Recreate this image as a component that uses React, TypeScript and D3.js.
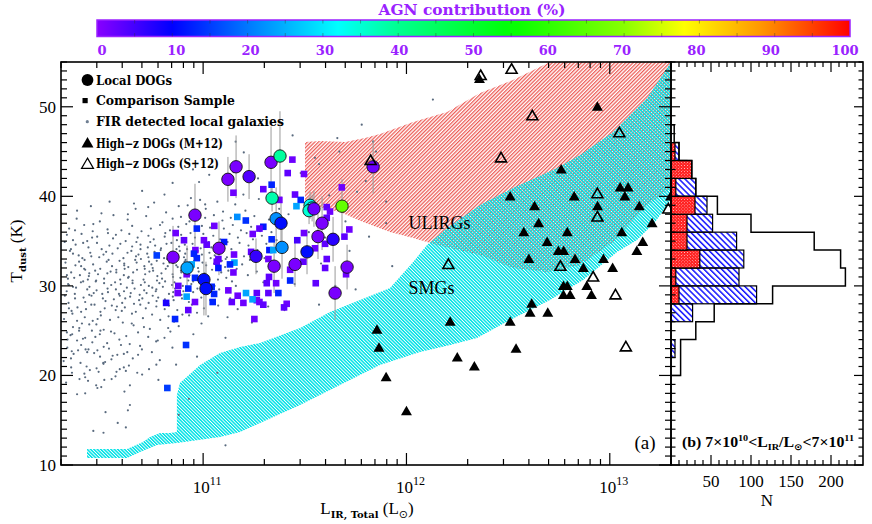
import React, { useRef, useEffect } from 'react'
import * as d3 from 'd3'

// colour table for AGN contribution
const agnStops = [0, 10, 20, 32, 40, 55, 70, 78, 88, 100]
const agnColors = ['#8800ff', '#0000ff', '#0078ff', '#00ffff', '#00ff90', '#00ff00', '#88ff00', '#ffff00', '#ff9900', '#ff0000']
const agnTicks = [0, 10, 20, 30, 40, 50, 60, 70, 80, 90, 100]

// local DOGs: log L_IR, T_dust, AGN %, T error
const localDogs = [
  [11.122, 41.9, 1, 2.5], [11.162, 43.3, 1, 3.5], [11.226, 42.2, 4, 2.5], [11.334, 43.8, 1, 4],
  [11.378, 44.5, 39, 5], [11.339, 39.8, 38, 1.5], [11.359, 37.5, 22, 3.5], [11.383, 37.0, 11, 3],
  [11.388, 34.3, 22, 3.5], [11.511, 33.8, 11, 2.5], [11.26, 33.3, 6, 2], [11.349, 32.2, 1, 3],
  [11.452, 32.4, 1, 2.5], [11.526, 39.0, 33, 1.5], [11.536, 38.7, 31, 1.5], [11.521, 38.4, 35, 1.5],
  [11.545, 38.6, 2, 2], [11.585, 37.0, 1, 3], [11.565, 35.5, 1, 2.5], [11.639, 35.2, 7, 2.5],
  [11.683, 38.9, 66, 3], [11.708, 32.1, 1, 2.5], [11.649, 29.2, 1, 3], [10.96, 37.9, 1, 3.5],
  [11.078, 34.2, 1, 3], [10.852, 33.2, 1, 3.5], [10.921, 32.0, 24, 2.5], [11.004, 30.7, 11, 4],
  [11.014, 29.7, 11, 3], [11.836, 43.3, 2, 3]
]

// comparison sample: log L_IR, T_dust, AGN %
const comparison = [
  [11.439, 44.1, 2], [11.416, 42.6, 3], [11.496, 42.5, 2], [11.337, 41.3, 13], [11.296, 40.8, 3],
  [11.149, 40.4, 2], [11.452, 40.2, 3], [11.48, 39.6, 13], [11.459, 38.9, 24], [11.682, 41.0, 2],
  [11.608, 38.8, 3], [11.624, 38.3, 2], [11.168, 37.7, 22], [11.21, 37.3, 14], [11.296, 36.6, 12],
  [11.277, 36.4, 3], [11.055, 36.7, 2], [10.969, 36.4, 13], [10.865, 35.9, 2], [10.906, 35.1, 3],
  [11.004, 35.1, 2], [11.103, 34.9, 12], [11.018, 34.6, 3], [11.244, 35.8, 2], [11.337, 35.2, 13],
  [11.463, 35.1, 5], [11.496, 35.9, 2], [11.695, 35.5, 3], [11.719, 36.3, 2], [11.608, 37.6, 3],
  [10.962, 34.0, 2], [10.955, 33.6, 13], [10.772, 33.4, 15], [11.075, 33.0, 3], [11.152, 33.5, 2],
  [11.236, 33.8, 3], [11.326, 34.0, 12], [11.345, 34.0, 24], [11.501, 33.9, 12], [11.55, 34.2, 2],
  [11.608, 33.0, 3], [11.154, 32.6, 24], [11.149, 31.5, 2], [11.324, 31.0, 3], [11.428, 31.8, 2],
  [11.6, 32.0, 3], [11.703, 31.3, 2], [11.313, 30.3, 3], [11.359, 30.3, 2], [11.428, 30.6, 13],
  [11.554, 30.3, 3], [10.919, 31.3, 2], [10.96, 30.9, 13], [10.878, 30.0, 3], [10.875, 29.2, 2],
  [10.927, 29.7, 13], [10.919, 28.8, 24], [11.042, 29.9, 13], [11.124, 29.5, 2], [11.211, 29.2, 24],
  [11.264, 29.2, 3], [11.264, 28.4, 2], [11.321, 29.2, 3], [11.37, 29.2, 13], [11.17, 28.9, 2],
  [11.141, 28.2, 3], [11.243, 28.5, 24], [11.277, 28.2, 2], [11.296, 27.9, 3], [11.411, 28.0, 2],
  [11.398, 27.6, 3], [10.96, 28.2, 2], [11.047, 28.2, 13], [10.818, 28.1, 8], [10.927, 27.3, 3],
  [10.862, 26.3, 13], [11.252, 26.3, 2], [10.969, 33.1, 13], [10.944, 32.4, 24], [11.067, 32.7, 3],
  [11.054, 29.1, 13], [11.198, 28.1, 2], [10.916, 23.4, 14], [10.824, 18.6, 15], [11.375, 39.6, 2],
  [11.6, 34.7, 3], [11.321, 33.0, 2], [11.493, 32.7, 3], [11.075, 32.0, 12], [11.132, 32.4, 13]
]

// FIR detected local galaxies: log L_IR, T_dust
const firGalaxies = [
  [10.33, 31.2], [10.34, 27.5], [10.35, 34.1], [10.33, 24.8], [10.36, 29.9], [10.37, 36.2], [10.38, 26.1],
  [10.39, 32.7], [10.4, 23.4], [10.41, 30.5], [10.42, 28.2], [10.43, 35.0], [10.44, 25.7], [10.45, 33.3],
  [10.35, 21.9], [10.38, 38.4], [10.42, 31.8], [10.44, 29.0], [10.36, 33.6], [10.4, 27.1], [10.43, 22.6],
  [10.46, 36.9], [10.34, 30.1], [10.39, 25.0], [10.41, 34.8], [10.45, 27.9], [10.37, 28.6], [10.44, 31.4],
  [10.33, 35.7], [10.47, 24.3], [10.42, 19.8], [10.38, 17.9], [10.32, 28.9], [10.36, 25.4], [10.4, 32.2],
  [10.48, 22.8], [10.5, 38.1], [10.51, 21.3], [10.55, 19.6], [10.59, 20.7], [10.54, 39.4], [10.48, 18.6],
  [10.52, 15.9], [10.46, 13.8], [10.51, 13.6], [10.58, 14.7], [10.62, 14.2], [10.64, 16.7], [10.63, 16.1],
  [10.42, 18.0], [10.61, 22.4], [10.63, 38.0], [10.62, 20.5], [10.66, 39.2], [10.7, 20.1], [10.73, 38.8],
  [10.64, 18.9], [10.68, 22.3], [10.7, 40.6], [10.77, 21.2], [10.81, 40.2], [10.85, 41.5], [10.78, 19.5],
  [10.88, 38.9], [10.88, 15.6], [10.93, 17.4], [10.94, 39.8], [10.98, 41.6], [10.95, 43.0], [11.03, 42.4],
  [10.97, 22.1], [11.07, 20.3], [11.11, 12.2], [11.01, 39.1], [11.15, 42.7], [11.2, 44.9], [11.27, 42.0],
  [11.11, 24.2], [11.16, 46.1], [11.12, 26.5], [11.17, 27.4], [11.24, 25.9], [11.32, 27.7], [11.33, 40.3],
  [11.38, 34.8], [11.42, 38.0], [11.45, 30.2], [11.48, 42.6], [11.52, 36.0], [11.55, 44.3], [11.58, 32.5],
  [11.62, 40.1], [11.66, 46.5], [11.7, 37.2], [11.75, 29.6], [11.8, 41.7], [11.4, 27.3], [11.5, 33.7],
  [11.6, 35.4], [11.85, 45.0], [11.44, 46.8], [11.72, 33.9], [11.57, 27.9], [11.65, 30.0], [11.78, 48.0],
  [11.9, 39.4], [12.13, 50.8], [11.57, 43.6], [11.757, 40.5], [11.9, 37.0], [11.816, 35.5], [11.93, 32.2],
  [11.67, 45.0], [11.836, 46.1],
  [10.316, 26.3], [10.329, 29.4], [10.323, 32.6], [10.335, 30.8], [10.319, 34.9], [10.332, 23.1], [10.314, 21.6],
  [10.326, 19.2], [10.333, 24.0], [10.338, 28.1], [10.351, 31.5], [10.345, 33.9], [10.357, 26.9], [10.341, 36.4],
  [10.354, 22.7], [10.336, 30.2], [10.348, 24.5], [10.355, 20.3], [10.353, 27.2], [10.366, 30.9], [10.36, 35.1],
  [10.372, 32.3], [10.356, 24.6], [10.369, 29.1], [10.351, 20.9], [10.363, 22.4], [10.375, 29.8], [10.388, 33.4],
  [10.382, 27.6], [10.394, 31.2], [10.378, 37.5], [10.391, 25.3], [10.373, 34.6], [10.385, 22.8], [10.392, 19.6],
  [10.38, 23.9], [10.399, 30.4], [10.412, 28.7], [10.406, 33.1], [10.418, 26.5], [10.402, 35.8], [10.415, 31.9],
  [10.397, 21.4], [10.409, 24.1], [10.416, 20.2], [10.404, 25.8], [10.417, 32.9], [10.43, 29.6], [10.424, 27.4],
  [10.436, 34.3], [10.42, 24.2], [10.433, 30.7], [10.415, 36.8], [10.427, 21.0], [10.434, 19.4], [10.422, 22.9],
  [10.438, 31.1], [10.451, 28.9], [10.445, 33.7], [10.457, 26.1], [10.441, 29.9], [10.454, 35.4], [10.436, 22.9],
  [10.448, 38.9], [10.455, 23.7], [10.443, 20.6], [10.453, 25.0], [10.459, 32.4], [10.472, 30.5], [10.466, 27.9],
  [10.478, 34.8], [10.462, 29.2], [10.475, 25.7], [10.457, 36.1], [10.469, 31.7], [10.476, 20.8], [10.464, 22.5],
  [10.474, 18.9], [10.476, 29.5], [10.489, 33.2], [10.483, 31.3], [10.495, 27.1], [10.479, 35.5], [10.492, 24.6],
  [10.474, 30.6], [10.486, 20.4], [10.493, 22.1], [10.481, 26.3], [10.494, 31.9], [10.507, 28.6], [10.501, 34.1],
  [10.513, 30.3], [10.497, 26.7], [10.51, 33.5], [10.492, 37.2], [10.504, 29.1], [10.511, 23.2], [10.499, 18.7],
  [10.509, 21.4], [10.495, 25.0], [10.513, 30.8], [10.526, 32.7], [10.52, 28.3], [10.532, 35.9], [10.516, 27.5],
  [10.529, 31.4], [10.511, 25.1], [10.523, 33.8], [10.53, 29.7], [10.518, 21.5], [10.528, 23.6], [10.514, 19.5],
  [10.532, 29.3], [10.545, 31.6], [10.539, 34.5], [10.551, 27.8], [10.535, 32.9], [10.548, 30.1], [10.53, 36.3],
  [10.542, 26.2], [10.549, 21.8], [10.537, 23.0], [10.547, 24.9], [10.554, 33.6], [10.567, 30.4], [10.561, 28.5],
  [10.573, 31.8], [10.557, 35.3], [10.57, 27.3], [10.552, 32.2], [10.564, 24.7], [10.571, 29.6], [10.559, 37.9],
  [10.569, 19.9], [10.555, 22.2], [10.573, 31.5], [10.586, 29.1], [10.58, 34.2], [10.592, 30.7], [10.576, 27.7],
  [10.589, 32.8], [10.571, 35.7], [10.583, 26.5], [10.59, 28.9], [10.578, 22.3], [10.588, 24.0], [10.574, 20.4],
  [10.595, 30.2], [10.608, 33.1], [10.602, 28.1], [10.614, 31.9], [10.598, 36.2], [10.611, 29.4], [10.593, 34.7],
  [10.605, 25.9], [10.612, 32.5], [10.6, 27.2], [10.61, 20.9], [10.596, 23.4], [10.612, 32.3], [10.625, 29.8],
  [10.619, 35.0], [10.631, 30.9], [10.615, 27.6], [10.628, 33.7], [10.61, 31.2], [10.622, 24.4], [10.629, 37.4],
  [10.617, 28.6], [10.627, 22.6], [10.613, 18.2], [10.634, 31.0], [10.647, 33.9], [10.641, 28.8], [10.653, 30.3],
  [10.637, 35.8], [10.65, 26.9], [10.632, 32.1], [10.644, 29.2], [10.651, 34.4], [10.639, 23.5], [10.649, 25.8],
  [10.635, 21.1], [10.653, 30.6], [10.666, 32.9], [10.66, 28.0], [10.672, 34.9], [10.656, 31.5], [10.669, 27.1],
  [10.651, 36.7], [10.663, 29.7], [10.67, 33.3], [10.658, 25.6], [10.668, 38.6], [10.654, 21.9], [10.675, 31.8],
  [10.688, 29.0], [10.682, 33.5], [10.694, 30.1], [10.678, 35.4], [10.691, 27.9], [10.673, 32.6], [10.685, 28.4],
  [10.692, 34.1], [10.68, 24.8], [10.69, 23.3], [10.676, 20.3], [10.694, 33.0], [10.707, 30.7], [10.701, 28.6],
  [10.713, 31.9], [10.697, 36.1], [10.71, 29.5], [10.692, 34.6], [10.704, 26.4], [10.711, 32.2], [10.699, 22.9],
  [10.709, 25.4], [10.715, 31.3], [10.728, 34.3], [10.722, 29.2], [10.734, 32.7], [10.718, 27.5], [10.731, 35.6],
  [10.713, 30.4], [10.725, 33.6], [10.732, 28.1], [10.72, 37.8], [10.73, 24.3], [10.733, 30.0], [10.746, 32.4],
  [10.74, 34.9], [10.752, 28.9], [10.736, 31.6], [10.749, 26.8], [10.731, 33.2], [10.743, 36.4], [10.75, 29.8],
  [10.738, 25.2], [10.748, 22.6], [10.734, 20.7], [10.754, 31.7], [10.767, 29.4], [10.761, 33.8], [10.773, 30.6],
  [10.757, 35.2], [10.77, 27.7], [10.752, 32.0], [10.764, 34.5], [10.771, 28.3], [10.759, 39.3], [10.769, 23.8],
  [10.772, 32.8], [10.785, 30.3], [10.779, 28.7], [10.791, 34.0], [10.775, 31.1], [10.788, 36.8], [10.77, 29.6],
  [10.782, 33.4], [10.789, 26.2], [10.777, 23.9], [10.787, 21.7], [10.795, 31.4], [10.808, 33.1], [10.802, 29.9],
  [10.814, 35.9], [10.798, 30.8], [10.811, 27.4], [10.793, 34.2], [10.805, 32.5], [10.812, 28.5], [10.8, 37.1],
  [10.81, 24.2], [10.813, 30.5], [10.826, 32.2], [10.82, 34.7], [10.832, 29.1], [10.816, 31.9], [10.829, 28.0],
  [10.811, 35.5], [10.823, 33.0], [10.83, 26.6], [10.818, 38.2], [10.828, 25.3], [10.834, 32.6], [10.847, 30.1],
  [10.841, 33.7], [10.853, 29.3], [10.837, 36.2], [10.85, 31.3], [10.832, 27.8], [10.844, 34.8], [10.851, 28.8],
  [10.839, 24.9], [10.849, 23.1], [10.852, 31.0], [10.865, 33.4], [10.859, 30.4], [10.871, 35.1], [10.855, 28.4],
  [10.868, 32.3], [10.85, 37.5], [10.862, 29.7], [10.869, 34.1], [10.857, 26.0], [10.867, 21.2], [10.875, 32.1],
  [10.888, 30.9], [10.882, 34.4], [10.894, 29.0], [10.878, 36.6], [10.891, 31.7], [10.873, 27.3], [10.885, 33.9],
  [10.892, 35.7], [10.88, 25.5], [10.893, 31.5], [10.906, 33.2], [10.9, 30.0], [10.912, 35.3], [10.896, 28.6],
  [10.909, 32.7], [10.891, 37.7], [10.903, 29.4], [10.91, 34.6], [10.898, 26.8], [10.914, 32.9], [10.927, 30.6],
  [10.921, 34.1], [10.933, 31.2], [10.917, 36.9], [10.93, 28.2], [10.912, 33.6], [10.924, 39.0], [10.931, 26.7],
  [10.935, 31.8], [10.948, 34.7], [10.942, 30.2], [10.954, 32.4], [10.938, 35.9], [10.951, 29.3], [10.933, 37.2],
  [10.945, 27.9], [10.952, 24.6], [10.953, 33.3], [10.966, 31.1], [10.96, 35.4], [10.972, 29.7], [10.956, 32.8],
  [10.969, 38.1], [10.951, 30.5], [10.963, 36.3], [10.97, 27.0], [10.975, 32.0], [10.988, 34.2], [10.982, 30.8],
  [10.994, 36.7], [10.978, 31.6], [10.991, 28.7], [10.973, 33.9], [10.985, 39.6], [10.992, 25.8], [10.994, 33.5],
  [11.007, 31.4], [11.001, 35.8], [11.013, 29.9], [10.997, 32.6], [11.01, 37.6], [10.992, 30.3], [11.004, 27.5],
  [11.015, 32.3], [11.028, 34.9], [11.022, 31.0], [11.034, 36.5], [11.018, 29.5], [11.031, 33.7], [11.013, 38.6],
  [11.025, 26.6], [11.037, 33.1], [11.05, 35.6], [11.044, 31.8], [11.056, 30.0], [11.04, 34.3], [11.053, 37.9],
  [11.035, 28.4], [11.054, 32.5], [11.067, 34.6], [11.061, 36.9], [11.073, 30.7], [11.057, 33.4], [11.07, 39.4],
  [11.052, 28.9], [11.076, 33.9], [11.089, 31.5], [11.083, 35.2], [11.095, 37.3], [11.079, 29.6], [11.092, 32.8],
  [11.074, 27.8], [11.095, 34.4], [11.108, 32.1], [11.102, 36.4], [11.114, 30.9], [11.098, 38.3], [11.111, 33.0],
  [11.117, 33.2], [11.13, 35.8], [11.124, 31.7], [11.136, 37.6], [11.12, 34.9], [11.133, 28.6], [11.139, 34.1],
  [11.152, 32.6], [11.146, 36.8], [11.158, 39.1], [11.142, 30.5], [11.158, 33.7], [11.171, 35.4], [11.165, 31.9],
  [11.177, 37.9], [11.161, 30.0], [11.179, 34.8], [11.192, 32.4], [11.186, 36.2], [11.198, 40.2], [11.201, 33.3],
  [11.214, 35.9], [11.208, 38.4], [11.22, 31.2], [11.204, 29.0], [11.223, 34.5], [11.236, 36.6], [11.23, 32.9],
  [11.245, 35.2], [11.258, 33.6], [11.252, 37.8], [11.264, 31.6], [11.267, 34.0], [11.28, 36.1], [11.274, 39.7],
  [11.289, 35.6], [11.302, 33.1], [11.296, 30.4], [11.311, 34.7], [11.324, 37.4], [11.336, 36.0], [11.349, 32.7],
  [11.361, 35.1], [11.374, 38.6]
]

// high-z DOGs (M+12), log L_IR, T_dust
const highzM = [
  [12.359, 53.0], [12.939, 49.9], [12.761, 42.9], [12.51, 39.9], [12.63, 38.8], [12.825, 39.9], [12.94, 38.8],
  [13.051, 40.9], [13.09, 40.9], [13.074, 39.9], [13.145, 38.8], [13.299, 39.9], [12.65, 36.9], [12.577, 35.9],
  [12.791, 35.9], [13.059, 35.9], [13.208, 36.9], [12.692, 34.8], [12.747, 33.8], [12.773, 33.8], [13.162, 34.8],
  [13.133, 33.8], [12.602, 32.9], [12.829, 32.9], [12.87, 31.9], [12.969, 32.9], [13.014, 31.9], [12.772, 29.9],
  [12.791, 29.9], [12.772, 28.9], [12.805, 28.9], [12.887, 29.9], [12.91, 28.9], [12.616, 27.9], [12.608, 26.9],
  [12.695, 26.9], [12.51, 25.9], [12.215, 25.9], [12.539, 22.9], [12.25, 21.9], [12.334, 20.9], [12.0, 15.9],
  [11.855, 25.0], [11.865, 23.0], [11.9, 19.7]
]

// high-z DOGs (S+12)
const highzS = [
  [12.365, 53.4], [12.517, 54.1], [12.619, 48.9], [12.465, 44.2], [13.047, 47.0], [12.939, 40.2], [12.939, 37.6],
  [13.288, 38.5], [12.206, 32.3], [12.757, 32.1], [12.918, 30.9], [13.028, 28.9], [13.079, 23.1], [11.824, 43.9]
]

// T-L loci of local ULIRGs and SMGs
const ulirgRegion = [
  [11.501, 46.07], [11.575, 46.18], [11.698, 46.07], [11.796, 46.51], [11.87, 46.96], [12.033, 48.3],
  [12.2, 49.42], [12.362, 51.54], [12.524, 52.99], [12.706, 55], [13.301, 55], [13.301, 40.93],
  [13.184, 39.03], [13.016, 34.9], [12.854, 32.33], [12.692, 31.55], [12.524, 32.0], [12.362, 33.45],
  [12.151, 34.57], [12.033, 35.35], [11.919, 36.02], [11.787, 37.13], [11.673, 38.25], [11.59, 38.7],
  [11.501, 39.26]
]
const smgRegion = [
  [13.301, 55], [13.184, 50.98], [13.016, 47.18], [12.854, 44.61], [12.741, 43.16], [12.524, 40.93],
  [12.362, 39.03], [12.2, 36.46], [12.101, 34.57], [12.033, 32.67], [11.919, 29.76], [11.772, 28.42],
  [11.624, 27.08], [11.477, 25.3], [11.28, 23.62], [11.182, 23.18], [11.083, 22.51], [10.985, 21.17],
  [10.886, 19.16], [10.871, 17.82], [10.871, 13.68], [10.837, 13.57], [10.788, 13.57], [10.739, 13.13],
  [10.704, 12.57], [10.626, 11.79], [10.429, 11.79], [10.429, 10.78], [10.626, 10.78], [10.69, 11.45],
  [10.773, 12.23], [10.871, 12.46], [11.083, 13.13], [11.182, 13.68], [11.28, 14.69], [11.477, 16.7],
  [11.673, 18.93], [11.87, 21.17], [12.067, 22.62], [12.215, 23.4], [12.347, 24.18], [12.51, 26.19],
  [12.706, 28.42], [12.869, 30.66], [13.036, 33.78], [13.134, 35.12], [13.223, 37.13], [13.301, 39.59]
]

// histogram (b): T_dust bins (lower edges, 2 K wide)
const histBins = [20, 22, 24, 26, 28, 30, 32, 34, 36, 38, 40, 42, 44, 46]
const histTotal = [12, 12, 31, 54, 127, 218, 212, 179, 100, 58, 31, 26, 10, 4]
const histComparison = [0, 5, 0, 27, 107, 85, 91, 82, 52, 45, 31, 20, 10, 0]
const histDogs = [0, 0, 0, 0, 10, 6, 36, 20, 20, 30, 6, 26, 5, 0]

const serif = 'Liberation Serif, Times New Roman, serif'
const bold = 'DejaVu Serif, serif'
const purple = '#9a22ff'

export default function App() {
  const ref = useRef<SVGSVGElement>(null)

  useEffect(() => {
    const svg = d3.select(ref.current)
    svg.selectAll('*').remove()

    const L = 61, R = 671, T = 62, B = 465, HR = 863

    const x = d3.scaleLog().domain([2e10, 2e13]).range([L, R])
    const X = (l: number) => x(Math.pow(10, l))
    const y = d3.scaleLinear().domain([10, 55]).range([B, T])
    const n = d3.scaleLinear().domain([0, 240]).range([R, HR])
    const agn = d3.scaleLinear<string>().domain(agnStops).range(agnColors).interpolate(d3.interpolateRgb).clamp(true)
    const cb = d3.scaleLinear().domain([0, 100]).range([97, 850])
    const cbLab = d3.scaleLinear().domain([0, 100]).range([102, 845])

    const defs = svg.append('defs')
    const mkHatch = (id: string, size: number, w: number, color: string, rot: number) => {
      const p = defs.append('pattern').attr('id', id).attr('patternUnits', 'userSpaceOnUse')
        .attr('width', size).attr('height', size).attr('patternTransform', `rotate(${rot})`)
      p.append('rect').attr('width', w).attr('height', size).attr('fill', color)
    }
    mkHatch('ulirg', 2.6, 1.25, '#ec5a54', 45)
    mkHatch('smg', 2.4, 1.5, '#00e2e6', -45)
    mkHatch('blueh', 4.2, 1.5, '#1414ff', -45)
    const pr = defs.append('pattern').attr('id', 'redx').attr('patternUnits', 'userSpaceOnUse')
      .attr('width', 2.2).attr('height', 2.2).attr('patternTransform', 'rotate(45)')
    pr.append('rect').attr('width', 2.2).attr('height', 2.2).attr('fill', '#ff2020')
    pr.append('rect').attr('width', 0.8).attr('height', 0.8).attr('fill', '#ffd0d0')

    const grad = defs.append('linearGradient').attr('id', 'agnbar')
    d3.range(0, 101, 2).forEach(v => {
      grad.append('stop').attr('offset', `${v}%`).attr('stop-color', agn(v))
    })

    defs.append('clipPath').attr('id', 'mainclip').append('rect')
      .attr('x', L).attr('y', T).attr('width', R - L).attr('height', B - T)

    // colour bar
    svg.append('text').attr('x', 472).attr('y', 15).attr('text-anchor', 'middle')
      .attr('font-family', bold).attr('font-weight', 'bold').attr('font-size', 15)
      .attr('fill', purple).attr('textLength', 187).attr('lengthAdjust', 'spacingAndGlyphs')
      .text('AGN contribution (%)')
    svg.append('rect').attr('x', cb(0)).attr('y', 20).attr('width', cb(100) - cb(0)).attr('height', 16.5)
      .attr('fill', 'url(#agnbar)').attr('stroke', purple).attr('stroke-width', 1.5)
    d3.range(5, 100, 5).forEach(v => {
      svg.append('line').attr('x1', cb(v)).attr('x2', cb(v)).attr('y1', 20).attr('y2', 23.5)
        .attr('stroke', '#333').attr('stroke-opacity', 0.5).attr('stroke-width', 0.8)
      svg.append('line').attr('x1', cb(v)).attr('x2', cb(v)).attr('y1', 33).attr('y2', 36.5)
        .attr('stroke', '#333').attr('stroke-opacity', 0.5).attr('stroke-width', 0.8)
    })
    agnTicks.forEach(v => {
      svg.append('text').attr('x', cbLab(v)).attr('y', 55).attr('text-anchor', 'middle')
        .attr('font-family', bold).attr('font-weight', 'bold').attr('font-size', 13)
        .attr('fill', purple).text(v)
    })

    // main panel
    const main = svg.append('g').attr('clip-path', 'url(#mainclip)')
    const line = d3.line<number[]>().x(d => X(d[0])).y(d => y(d[1]))
    main.append('path').attr('d', line(ulirgRegion as any) + 'Z').attr('fill', 'url(#ulirg)')
    main.append('path').attr('d', line(smgRegion as any) + 'Z').attr('fill', 'url(#smg)')

    main.append('text').attr('x', X(12.01)).attr('y', y(36.3)).attr('font-family', serif)
      .attr('font-size', 18).text('ULIRGs')
    main.append('text').attr('x', X(12.01)).attr('y', y(29.1)).attr('font-family', serif)
      .attr('font-size', 18).text('SMGs')

    main.selectAll('circle.fir').data(firGalaxies).enter().append('circle')
      .attr('cx', d => X(d[0])).attr('cy', d => y(d[1])).attr('r', 1.1).attr('fill', '#596a7e')

    // error bars for local DOGs
    main.selectAll('line.err').data(localDogs).enter().append('line')
      .attr('x1', d => X(d[0])).attr('x2', d => X(d[0]))
      .attr('y1', d => y(d[1] - d[3])).attr('y2', d => y(d[1] + d[3]))
      .attr('stroke', '#9a9a9a').attr('stroke-width', 1)

    const sq = 6.6
    main.selectAll('rect.cmp').data(comparison).enter().append('rect')
      .attr('x', d => X(d[0]) - sq / 2).attr('y', d => y(d[1]) - sq / 2)
      .attr('width', sq).attr('height', sq).attr('fill', d => agn(d[2]))

    main.selectAll('circle.dog').data(localDogs).enter().append('circle')
      .attr('cx', d => X(d[0])).attr('cy', d => y(d[1])).attr('r', 6.2)
      .attr('fill', d => agn(d[2])).attr('stroke', '#111').attr('stroke-width', 0.9)

    const tri = d3.symbol().type(d3.symbolTriangle).size(52)
    main.selectAll('path.m12').data(highzM).enter().append('path')
      .attr('d', tri).attr('transform', d => `translate(${X(d[0])},${y(d[1])})`).attr('fill', '#000')
    main.selectAll('path.s12').data(highzS).enter().append('path')
      .attr('d', tri).attr('transform', d => `translate(${X(d[0])},${y(d[1])})`)
      .attr('fill', 'none').attr('stroke', '#000').attr('stroke-width', 1.6)

    main.append('text').attr('x', 645).attr('y', 449).attr('text-anchor', 'middle')
      .attr('font-family', serif).attr('font-size', 19).text('(a)')

    // legend
    const lg = svg.append('g').attr('font-family', bold).attr('font-weight', 'bold').attr('font-size', 12)
    lg.append('circle').attr('cx', 87.5).attr('cy', 80).attr('r', 5.9).attr('fill', '#000')
    lg.append('rect').attr('x', 82.5).attr('y', 98).attr('width', 5.2).attr('height', 5.2).attr('fill', '#000')
    lg.append('circle').attr('cx', 87.3).attr('cy', 121.7).attr('r', 1.6).attr('fill', '#6f7f92')
    lg.append('path').attr('d', d3.symbol().type(d3.symbolTriangle).size(62)())
      .attr('transform', 'translate(87.5,144)').attr('fill', '#000')
    lg.append('path').attr('d', d3.symbol().type(d3.symbolTriangle).size(62)())
      .attr('transform', 'translate(87.5,165)').attr('fill', 'none').attr('stroke', '#000').attr('stroke-width', 1.2)
    const legendRows: [string, number, number][] = [
      ['Local DOGs', 84.5, 76], ['Comparison Sample', 105, 139], ['FIR detected local galaxies', 126, 188],
      ['High\u2212z DOGs (M+12)', 147.5, 127], ['High\u2212z DOGs (S+12)', 168, 123]
    ]
    legendRows.forEach(([t, yy, len]) => {
      lg.append('text').attr('x', 96).attr('y', yy).attr('textLength', len)
        .attr('lengthAdjust', 'spacingAndGlyphs').text(t)
    })

    // histogram panel
    const hist = svg.append('g')
    histBins.forEach((b, i) => {
      if (histComparison[i] > 0) {
        hist.append('rect').attr('x', n(0)).attr('y', y(b + 2)).attr('width', n(histComparison[i]) - n(0))
          .attr('height', y(b) - y(b + 2)).attr('fill', 'url(#blueh)').attr('stroke', '#000').attr('stroke-width', 1.2)
      }
    })
    histBins.forEach((b, i) => {
      if (histDogs[i] > 0) {
        hist.append('rect').attr('x', n(0)).attr('y', y(b + 2)).attr('width', n(histDogs[i]) - n(0))
          .attr('height', y(b) - y(b + 2)).attr('fill', 'url(#redx)').attr('stroke', '#000').attr('stroke-width', 1.2)
      }
    })
    const steps: [number, number][] = [[n(0), y(histBins[0])]]
    histBins.forEach((b, i) => {
      steps.push([n(histTotal[i]), y(b)])
      steps.push([n(histTotal[i]), y(b + 2)])
    })
    steps.push([n(0), y(histBins[histBins.length - 1] + 2)])
    hist.append('path').attr('d', d3.line()(steps)).attr('fill', 'none').attr('stroke', '#000').attr('stroke-width', 1.5)

    const bt = hist.append('text').attr('x', 768).attr('y', 447).attr('text-anchor', 'middle')
      .attr('font-family', serif).attr('font-weight', 'bold').attr('font-size', 14)
      .attr('textLength', 172).attr('lengthAdjust', 'spacingAndGlyphs')
    bt.append('tspan').text('(b)  7\u00d710')
    bt.append('tspan').attr('dy', -6).attr('font-size', 9).text('10')
    bt.append('tspan').attr('dy', 6).text('<L')
    bt.append('tspan').attr('dy', 3).attr('font-size', 9).text('IR')
    bt.append('tspan').attr('dy', -3).text('/L')
    bt.append('tspan').attr('dy', 3).attr('font-size', 9).attr('font-family', 'DejaVu Sans').text('\u2299')
    bt.append('tspan').attr('dy', -3).text('<7\u00d710')
    bt.append('tspan').attr('dy', -6).attr('font-size', 9).text('11')

    // frames and ticks
    const ax = svg.append('g').attr('stroke', '#000').attr('stroke-width', 1.2)
    x.ticks().forEach(v => {
      const major = Math.abs(Math.log10(v) - Math.round(Math.log10(v))) < 1e-6
      const len = major ? 12 : 6
      ax.append('line').attr('x1', x(v)).attr('x2', x(v)).attr('y1', B).attr('y2', B - len)
      ax.append('line').attr('x1', x(v)).attr('x2', x(v)).attr('y1', T).attr('y2', T + len)
    })
    d3.range(10, 56, 1).forEach(v => {
      const len = v % 10 === 0 ? 12 : 6
      ax.append('line').attr('x1', L).attr('x2', L + len).attr('y1', y(v)).attr('y2', y(v))
      ax.append('line').attr('x1', R).attr('x2', R - len).attr('y1', y(v)).attr('y2', y(v))
      const hl = v % 10 === 0 ? 9 : 4.5
      ax.append('line').attr('x1', R).attr('x2', R + hl).attr('y1', y(v)).attr('y2', y(v))
      ax.append('line').attr('x1', HR).attr('x2', HR - hl).attr('y1', y(v)).attr('y2', y(v))
    })
    d3.range(10, 240, 10).forEach(v => {
      const len = v % 50 === 0 ? 10 : 5
      ax.append('line').attr('x1', n(v)).attr('x2', n(v)).attr('y1', B).attr('y2', B - len)
      ax.append('line').attr('x1', n(v)).attr('x2', n(v)).attr('y1', T).attr('y2', T + len)
    })
    svg.append('rect').attr('x', L).attr('y', T).attr('width', R - L).attr('height', B - T)
      .attr('fill', 'none').attr('stroke', '#000').attr('stroke-width', 1.6)
    svg.append('rect').attr('x', R).attr('y', T).attr('width', HR - R).attr('height', B - T)
      .attr('fill', 'none').attr('stroke', '#000').attr('stroke-width', 1.6)

    // tick labels
    const lab = svg.append('g').attr('font-family', serif).attr('font-size', 17).attr('fill', '#000')
    d3.range(10, 51, 10).forEach(v => {
      lab.append('text').attr('x', 56).attr('y', y(v) + 6).attr('text-anchor', 'end').text(v)
    })
    ;[11, 12, 13].forEach(p => {
      const t = lab.append('text').attr('x', x(Math.pow(10, p)) + 4).attr('y', 493).attr('text-anchor', 'middle')
      t.append('tspan').text('10')
      t.append('tspan').attr('dy', -8).attr('font-size', 12).text(p)
    })
    ;[50, 100, 150, 200].forEach(v => {
      lab.append('text').attr('x', n(v)).attr('y', 487).attr('text-anchor', 'middle').text(v)
    })
    lab.append('text').attr('x', n(120)).attr('y', 506).attr('text-anchor', 'middle').text('N')

    const xt = lab.append('text').attr('x', 367).attr('y', 514).attr('text-anchor', 'middle')
    xt.append('tspan').text('L')
    xt.append('tspan').attr('dy', 4).attr('font-size', 10).attr('font-family', bold).attr('font-weight', 'bold').text('IR, Total')
    xt.append('tspan').attr('dy', -4).text(' (L')
    xt.append('tspan').attr('dy', 4).attr('font-size', 11).attr('font-family', 'DejaVu Sans').text('\u2299')
    xt.append('tspan').attr('dy', -4).text(')')

    const yt = lab.append('text').attr('transform', 'translate(22,251) rotate(-90)').attr('text-anchor', 'middle')
    yt.append('tspan').text('T')
    yt.append('tspan').attr('dy', 4).attr('font-size', 10).attr('font-family', bold).attr('font-weight', 'bold').text('dust')
    yt.append('tspan').attr('dy', -4).text(' (K)')
  }, [])

  return (
    <svg ref={ref} width={872} height={524}
      style={{ position: 'absolute', left: 0, top: 0, background: '#fff' }} />
  )
}
